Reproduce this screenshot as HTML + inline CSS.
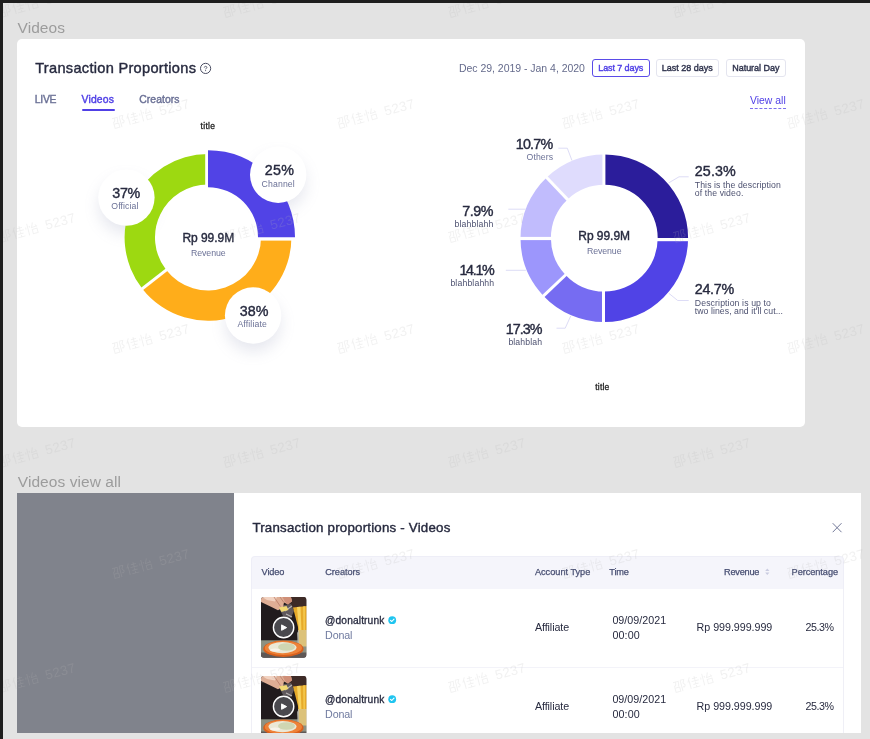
<!DOCTYPE html>
<html>
<head>
<meta charset="utf-8">
<title>Transaction Proportions</title>
<style>
*{box-sizing:border-box;margin:0;padding:0}
html,body{width:870px;height:739px;overflow:hidden}
body{background:#e3e3e3;font-family:"Liberation Sans",sans-serif;position:relative;color:#23263a}
.abs{position:absolute;white-space:nowrap}
#topbar{left:0;top:0;width:870px;height:3px;background:#1e1e1e}
#leftbar{left:0;top:0;width:3px;height:739px;background:#1e1e1e}
.sect{color:#9c9c9c;font-size:15px;line-height:18px}
#card{left:17px;top:39px;width:787.6px;height:388.2px;background:#fff;border-radius:5px}
#title{left:35px;top:59px;font-size:15px;font-weight:bold;line-height:18px;color:#23263a;letter-spacing:-0.15px}
.tab{font-size:10.5px;line-height:12px;font-weight:bold;color:#6b7196;top:93px}
.tab.on{color:#5040e6}
#tabline{left:81.5px;top:109.2px;width:33px;height:2px;background:#5040e6;border-radius:1px}
#date{left:459px;top:61px;font-size:10.5px;line-height:14px;color:#5d6385}
.btn{top:58.8px;height:18.2px;border:1px solid #e4e5ef;border-radius:3px;font-size:9px;font-weight:bold;line-height:16px;text-align:center;color:#2f334d;background:#fff}
.btn.on{border-color:#5a4be8;color:#5040e6}
#viewall{left:750px;top:95px;width:36px;font-size:10.5px;line-height:12px;color:#5040e6;border-bottom:1px dashed #5040e6;height:14px}
</style>
</head>
<body>
<div id="root" style="position:absolute;left:0;top:0;width:870px;height:739px;overflow:hidden;will-change:transform">
<div class="abs" id="topbar"></div>
<div class="abs" id="leftbar"></div>

<div class="abs" id="card"></div>
<svg class="abs" style="left:199px;top:62px" width="13" height="13" viewBox="0 0 13 13"><circle cx="6.6" cy="6.4" r="5.1" fill="none" stroke="#4a4d62" stroke-width="1"/><path d="M5.3 5.5C5.3 4 7.9 4 7.9 5.4C7.9 6.3 6.6 6.3 6.6 7.3" fill="none" stroke="#4a4d62" stroke-width="0.9"/><circle cx="6.6" cy="8.6" r="0.55" fill="#4a4d62"/></svg>
<div class="abs" id="tabline"></div>
<div class="abs btn on" style="left:591.8px;width:58px"></div>
<div class="abs btn" style="left:656px;width:63.2px"></div>
<div class="abs btn" style="left:726px;width:60.3px"></div>
<div class="abs" style="left:750px;top:108px;width:36px;height:0;border-top:1px dashed #7b6fee"></div>
<!-- HTEXT -->
<div class="abs" style="left:17.6px;top:18px;font-size:15.5px;line-height:19px;color:#9c9c9c;letter-spacing:0.05px">Videos</div>
<div class="abs" style="left:35.2px;top:59px;font-size:14.6px;line-height:18px;color:#272a3f;-webkit-text-stroke:0.4px #272a3f;letter-spacing:0.29px">Transaction Proportions</div>
<div class="abs" style="left:34.8px;top:94px;font-size:10.4px;line-height:12px;color:#6b7196;-webkit-text-stroke:0.4px #6b7196;letter-spacing:-0.28px">LIVE</div>
<div class="abs" style="left:81.5px;top:94px;font-size:10.4px;line-height:12px;color:#5040e6;-webkit-text-stroke:0.4px #5040e6;letter-spacing:0.17px">Videos</div>
<div class="abs" style="left:139.2px;top:94px;font-size:10.4px;line-height:12px;color:#6b7196;-webkit-text-stroke:0.4px #6b7196;letter-spacing:0.07px">Creators</div>
<div class="abs" style="left:459.0px;top:62px;font-size:10.5px;line-height:13px;color:#656b8c;letter-spacing:-0.03px">Dec 29, 2019 - Jan 4, 2020</div>
<div class="abs" style="left:598.3px;top:63px;font-size:9px;line-height:11px;color:#5040e6;-webkit-text-stroke:0.4px #5040e6;letter-spacing:-0.10px">Last 7 days</div>
<div class="abs" style="left:661.8px;top:63px;font-size:9px;line-height:11px;color:#2f334d;-webkit-text-stroke:0.4px #2f334d">Last 28 days</div>
<div class="abs" style="left:732.2px;top:63px;font-size:9px;line-height:11px;color:#2f334d;-webkit-text-stroke:0.4px #2f334d;letter-spacing:-0.02px">Natural Day</div>
<div class="abs" style="left:749.9px;top:95px;font-size:10.4px;line-height:12px;color:#5040e6;letter-spacing:0.03px">View all</div>
<div class="abs" style="left:17.8px;top:472px;font-size:15.5px;line-height:19px;color:#9c9c9c;letter-spacing:0.06px">Videos view all</div>
<!-- /HTEXT -->

<!-- CHARTS -->
<svg class="abs" style="left:0;top:0" width="870" height="739" viewBox="0 0 870 739">
<defs>
<filter id="bsh" x="-60%" y="-60%" width="220%" height="220%"><feGaussianBlur stdDeviation="8"/></filter>
</defs>
<g id="bshadows">
<circle cx="278.2" cy="183" r="27" fill="#7c82a8" opacity="0.2" filter="url(#bsh)"/>
<circle cx="126.4" cy="206" r="27" fill="#7c82a8" opacity="0.2" filter="url(#bsh)"/>
<circle cx="253.1" cy="324" r="27" fill="#7c82a8" opacity="0.2" filter="url(#bsh)"/>
</g>
<g id="ldonut">
<path d="M291.40 237.40A83.4 83.4 0 0 1 142.28 288.75L166.24 270.03A53 53 0 0 0 261.00 237.40Z" fill="#ffad1a"/>
<path d="M142.28 288.75A83.4 83.4 0 0 1 208.00 154.00L208.00 184.40A53 53 0 0 0 166.24 270.03Z" fill="#9dd911"/>
<path d="M172.54 265.10L135.50 294.04" stroke="#fff" stroke-width="3" fill="none"/>
<rect x="205.2" y="140" width="4" height="60" fill="#fff"/>
<rect x="250" y="236" width="50" height="4.6" fill="#fff"/>
<path d="M208.00 150.20A87 87 0 0 1 295.00 237.20L258.00 237.20A50 50 0 0 0 208.00 187.20Z" fill="#5143e6"/>
</g>
<g id="bubbles">
<circle cx="278.2" cy="174.8" r="28.2" fill="#fff"/>
<circle cx="126.4" cy="197.6" r="28.2" fill="#fff"/>
<circle cx="253.1" cy="315.5" r="28.2" fill="#fff"/>
</g>
<g id="rdonut">
<path d="M604.30 154.40A83.8 83.8 0 0 1 688.10 238.20L657.70 238.20A53.4 53.4 0 0 0 604.30 184.80Z" fill="#2b1d9b"/>
<path d="M688.10 238.20A83.8 83.8 0 0 1 604.30 322.00L604.30 291.60A53.4 53.4 0 0 0 657.70 238.20Z" fill="#5043e6"/>
<path d="M604.30 322.00A83.8 83.8 0 0 1 543.51 295.88L565.57 274.96A53.4 53.4 0 0 0 604.30 291.60Z" fill="#766cf2"/>
<path d="M543.51 295.88A83.8 83.8 0 0 1 520.50 238.20L550.90 238.20A53.4 53.4 0 0 0 565.57 274.96Z" fill="#9c96fc"/>
<path d="M520.50 238.20A83.8 83.8 0 0 1 546.62 177.41L567.54 199.47A53.4 53.4 0 0 0 550.90 238.20Z" fill="#c1bcfd"/>
<path d="M546.62 177.41A83.8 83.8 0 0 1 604.30 154.40L604.30 184.80A53.4 53.4 0 0 0 567.54 199.47Z" fill="#dfdcfd"/>
<path d="M569.48 271.24L539.02 300.15" stroke="#fff" stroke-width="3" fill="none"/>
<path d="M571.26 203.38L542.35 172.92" stroke="#fff" stroke-width="3" fill="none"/>
<rect x="602.4" y="150" width="3" height="40" fill="#fff"/>
<rect x="602.0" y="288" width="3" height="40" fill="#fff"/>
<rect x="655" y="238" width="40" height="3.2" fill="#fff"/>
<rect x="515" y="236.9" width="40" height="3.2" fill="#fff"/>
</g>
<g id="leaders" fill="none" stroke="#dddcf6" stroke-width="1">
<path d="M558.3 148.2H567.3L572 160.6"/>
<path d="M508.3 209.2H525.9"/>
<path d="M505.8 270.3H525.9"/>
<path d="M556.5 328.2H565.2L570.8 315.8"/>
<path d="M668.7 182.9L679 176.8H688.7"/>
<path d="M668.7 293.2L677.7 300.5H688.7"/>
</g>
</svg>
<!-- LABELS -->
<div class="abs" style="left:200.6px;top:121px;font-size:8.5px;line-height:10px;color:#222;-webkit-text-stroke:0.3px #222;letter-spacing:0.27px">title</div>
<div class="abs" style="left:264.8px;top:162px;font-size:14.3px;line-height:17px;color:#272a3f;-webkit-text-stroke:0.4px #272a3f;letter-spacing:0.26px">25%</div>
<div class="abs" style="left:261.6px;top:179px;font-size:8.7px;line-height:10px;color:#6b7196;letter-spacing:0.13px">Channel</div>
<div class="abs" style="left:112.3px;top:185px;font-size:14.3px;line-height:17px;color:#272a3f;-webkit-text-stroke:0.4px #272a3f;letter-spacing:-0.34px">37%</div>
<div class="abs" style="left:111.3px;top:201px;font-size:8.7px;line-height:10px;color:#6b7196;letter-spacing:0.10px">Official</div>
<div class="abs" style="left:239.8px;top:303px;font-size:14.3px;line-height:17px;color:#272a3f;-webkit-text-stroke:0.4px #272a3f;letter-spacing:0.06px">38%</div>
<div class="abs" style="left:237.4px;top:319px;font-size:8.7px;line-height:10px;color:#6b7196;letter-spacing:0.14px">Affiliate</div>
<div class="abs" style="left:182.4px;top:231px;font-size:12px;line-height:14px;color:#272a3f;-webkit-text-stroke:0.4px #272a3f;letter-spacing:-0.04px">Rp 99.9M</div>
<div class="abs" style="left:191.0px;top:248px;font-size:8.8px;line-height:11px;color:#6b7196;letter-spacing:-0.09px">Revenue</div>
<div class="abs" style="left:578.3px;top:229px;font-size:12px;line-height:14px;color:#272a3f;-webkit-text-stroke:0.4px #272a3f;letter-spacing:-0.04px">Rp 99.9M</div>
<div class="abs" style="left:586.9px;top:246px;font-size:8.8px;line-height:11px;color:#6b7196;letter-spacing:-0.09px">Revenue</div>
<div class="abs" style="left:515.8px;top:136px;font-size:14.3px;line-height:17px;color:#272a3f;-webkit-text-stroke:0.4px #272a3f;letter-spacing:-0.79px">10.7%</div>
<div class="abs" style="left:526.6px;top:152px;font-size:8.7px;line-height:10px;color:#6b7196;letter-spacing:0.07px">Others</div>
<div class="abs" style="left:462.3px;top:203px;font-size:14.3px;line-height:17px;color:#272a3f;-webkit-text-stroke:0.4px #272a3f;letter-spacing:-0.50px">7.9%</div>
<div class="abs" style="left:454.6px;top:219px;font-size:8.7px;line-height:10px;color:#4d5170;letter-spacing:0.13px">blahblahh</div>
<div class="abs" style="left:459.4px;top:262px;font-size:14.3px;line-height:17px;color:#272a3f;-webkit-text-stroke:0.4px #272a3f;letter-spacing:-1.29px">14.1%</div>
<div class="abs" style="left:450.4px;top:278px;font-size:8.7px;line-height:10px;color:#4d5170;letter-spacing:0.14px">blahblahhh</div>
<div class="abs" style="left:505.7px;top:321px;font-size:14.3px;line-height:17px;color:#272a3f;-webkit-text-stroke:0.4px #272a3f;letter-spacing:-0.95px">17.3%</div>
<div class="abs" style="left:508.4px;top:337px;font-size:8.7px;line-height:10px;color:#4d5170;letter-spacing:0.11px">blahblah</div>
<div class="abs" style="left:694.8px;top:163px;font-size:14.3px;line-height:17px;color:#272a3f;-webkit-text-stroke:0.4px #272a3f;letter-spacing:0.09px">25.3%</div>
<div class="abs" style="left:694.8px;top:180px;font-size:8.7px;line-height:10px;color:#4d5170;letter-spacing:0.09px">This is the description</div>
<div class="abs" style="left:694.8px;top:188px;font-size:8.7px;line-height:10px;color:#4d5170;letter-spacing:0.10px">of the video.</div>
<div class="abs" style="left:694.8px;top:281px;font-size:14.3px;line-height:17px;color:#272a3f;-webkit-text-stroke:0.4px #272a3f;letter-spacing:-0.31px">24.7%</div>
<div class="abs" style="left:694.8px;top:298px;font-size:8.7px;line-height:10px;color:#4d5170;letter-spacing:0.12px">Description is up to</div>
<div class="abs" style="left:694.8px;top:306px;font-size:8.7px;line-height:10px;color:#4d5170;letter-spacing:0.06px">two lines, and it'll cut...</div>
<div class="abs" style="left:595.2px;top:382px;font-size:8.5px;line-height:10px;color:#222;-webkit-text-stroke:0.3px #222;letter-spacing:0.23px">title</div>
<!-- /LABELS -->

<!-- BOTTOM -->
<div class="abs" style="left:16.5px;top:493px;width:217px;height:240px;background:#80838c"></div>
<div class="abs" style="left:233.5px;top:493px;width:627.5px;height:240px;background:#fff"></div>
<div class="abs" style="left:251px;top:555.5px;width:592.5px;height:33px;background:#f5f5fb;border:1px solid #eeeef7;border-bottom:0;border-radius:4px 4px 0 0"></div>
<div class="abs" style="left:251px;top:588.5px;width:592.5px;height:144.5px;border-left:1px solid #efeff6;border-right:1px solid #efeff6"></div>
<div class="abs" style="left:252px;top:667px;width:590.5px;height:1px;background:#f3f3f9"></div>
<svg class="abs" style="left:831px;top:522px" width="12" height="12" viewBox="0 0 12 12"><path d="M1.7 1.2L10.5 10.2M10.5 1.2L1.7 10.2" stroke="#737999" stroke-width="1" fill="none"/></svg>
<svg class="abs" style="left:764px;top:567px" width="7" height="10" viewBox="0 0 7 10"><path d="M1.2 4L3.3 1.6L5.4 4Z" fill="#c9cbe0"/><path d="M1.2 5.6L3.3 8L5.4 5.6Z" fill="#c9cbe0"/></svg>
<svg class="abs" style="left:261.3px;top:597.4px" width="45.4" height="60.8" viewBox="0 0 45.4 60.8">
<defs><clipPath id="tc1"><rect x="0" y="0" width="45.4" height="60.8" rx="3"/></clipPath><filter id="tb1" x="-10%" y="-10%" width="120%" height="120%"><feGaussianBlur stdDeviation="0.7"/></filter></defs>
<g clip-path="url(#tc1)">
<rect width="45.4" height="60.8" fill="#211b1d"/>
<g filter="url(#tb1)">
<rect x="28" y="-2" width="20" height="14" fill="#3d2926"/>
<rect x="-2" y="43.3" width="50" height="20" fill="#8d9182"/>
<rect x="-2" y="55.5" width="50" height="8" fill="#5f5857"/>
<path d="M17 9L30 7L33 14L30 21L22 19Z" fill="#5e585c"/>
<path d="M24 14L31 9M25 17L31 20" stroke="#b9b4b4" stroke-width="1.1" fill="none"/>
<path d="M32 10.5L46 9V47L38 48L37 30Z" fill="#e6aa2c"/>
<path d="M36 10L39.5 9.7L40.5 34L38 34Z" fill="#f7d35e"/>
<path d="M42 9.5L44 9.3V40H42.5Z" fill="#f3c548"/>
<path d="M37 33H46.5V49.5H38Z" fill="#dcc27a"/>
<path d="M36 36L38 33L38 47L36.5 46Z" fill="#b9b9b0" opacity="0.8"/>
<path d="M-1 -1H29.7L31 4.2L27 7.5L23 5.6L22 10.4L17 13.3L11 10.3L-1 4.4Z" fill="#dfae95"/>
<path d="M1 0H16L14 4.5L6 3Z" fill="#f2d3c2"/>
<path d="M21 -1L29.7 -1L31 4.2L27 7.5L24 5Z" fill="#cf8f78"/>
<path d="M13 0L19.5 9.5M19 0L23 5.6" stroke="#b87a66" stroke-width="0.8" fill="none"/>
<path d="M18 10.5L25.5 9L27.5 13L20.5 15Z" fill="#f1d873"/>
<ellipse cx="22.4" cy="51.8" rx="20.2" ry="8.2" fill="#d9601c"/>
<ellipse cx="22.4" cy="51" rx="18.6" ry="7" fill="#ee8238"/>
<ellipse cx="21.5" cy="50.6" rx="14" ry="5.6" fill="#ebe8d6"/>
<ellipse cx="25.5" cy="50" rx="8.5" ry="3.8" fill="#cfd6b2"/>
<ellipse cx="14" cy="53" rx="5" ry="1.6" fill="#f7f3ea"/>
</g>
<circle cx="22.6" cy="30.5" r="10.2" fill="#525256" opacity="0.86"/>
<circle cx="22.6" cy="30.5" r="10.2" fill="none" stroke="#fff" stroke-width="1.4"/>
<path d="M20.6 27.9L25.6 30.6L20.6 33.3Z" fill="#fff" stroke="#fff" stroke-width="1" stroke-linejoin="round"/>
</g></svg>
<svg class="abs" style="left:261.3px;top:676.4px" width="45.4" height="60.8" viewBox="0 0 45.4 60.8">
<defs><clipPath id="tc2"><rect x="0" y="0" width="45.4" height="60.8" rx="3"/></clipPath><filter id="tb2" x="-10%" y="-10%" width="120%" height="120%"><feGaussianBlur stdDeviation="0.7"/></filter></defs>
<g clip-path="url(#tc2)">
<rect width="45.4" height="60.8" fill="#211b1d"/>
<g filter="url(#tb2)">
<rect x="28" y="-2" width="20" height="14" fill="#3d2926"/>
<rect x="-2" y="43.3" width="50" height="20" fill="#8d9182"/>
<rect x="-2" y="55.5" width="50" height="8" fill="#5f5857"/>
<path d="M17 9L30 7L33 14L30 21L22 19Z" fill="#5e585c"/>
<path d="M24 14L31 9M25 17L31 20" stroke="#b9b4b4" stroke-width="1.1" fill="none"/>
<path d="M32 10.5L46 9V47L38 48L37 30Z" fill="#e6aa2c"/>
<path d="M36 10L39.5 9.7L40.5 34L38 34Z" fill="#f7d35e"/>
<path d="M42 9.5L44 9.3V40H42.5Z" fill="#f3c548"/>
<path d="M37 33H46.5V49.5H38Z" fill="#dcc27a"/>
<path d="M36 36L38 33L38 47L36.5 46Z" fill="#b9b9b0" opacity="0.8"/>
<path d="M-1 -1H29.7L31 4.2L27 7.5L23 5.6L22 10.4L17 13.3L11 10.3L-1 4.4Z" fill="#dfae95"/>
<path d="M1 0H16L14 4.5L6 3Z" fill="#f2d3c2"/>
<path d="M21 -1L29.7 -1L31 4.2L27 7.5L24 5Z" fill="#cf8f78"/>
<path d="M13 0L19.5 9.5M19 0L23 5.6" stroke="#b87a66" stroke-width="0.8" fill="none"/>
<path d="M18 10.5L25.5 9L27.5 13L20.5 15Z" fill="#f1d873"/>
<ellipse cx="22.4" cy="51.8" rx="20.2" ry="8.2" fill="#d9601c"/>
<ellipse cx="22.4" cy="51" rx="18.6" ry="7" fill="#ee8238"/>
<ellipse cx="21.5" cy="50.6" rx="14" ry="5.6" fill="#ebe8d6"/>
<ellipse cx="25.5" cy="50" rx="8.5" ry="3.8" fill="#cfd6b2"/>
<ellipse cx="14" cy="53" rx="5" ry="1.6" fill="#f7f3ea"/>
</g>
<circle cx="22.6" cy="30.5" r="10.2" fill="#525256" opacity="0.86"/>
<circle cx="22.6" cy="30.5" r="10.2" fill="none" stroke="#fff" stroke-width="1.4"/>
<path d="M20.6 27.9L25.6 30.6L20.6 33.3Z" fill="#fff" stroke="#fff" stroke-width="1" stroke-linejoin="round"/>
</g></svg>
<svg class="abs" style="left:388px;top:616.4px" width="9" height="9" viewBox="0 0 9 9"><circle cx="4.2" cy="4.2" r="3.9" fill="#20c5f0"/><path d="M2.5 4.3L3.8 5.5L6 3.1" fill="none" stroke="#fff" stroke-width="1.1" stroke-linecap="round" stroke-linejoin="round"/></svg>
<svg class="abs" style="left:388px;top:695.4px" width="9" height="9" viewBox="0 0 9 9"><circle cx="4.2" cy="4.2" r="3.9" fill="#20c5f0"/><path d="M2.5 4.3L3.8 5.5L6 3.1" fill="none" stroke="#fff" stroke-width="1.1" stroke-linecap="round" stroke-linejoin="round"/></svg>
<!-- BTEXT -->
<div class="abs" style="left:252.4px;top:520px;font-size:13.3px;line-height:16px;color:#272a3f;-webkit-text-stroke:0.4px #272a3f;letter-spacing:0.21px">Transaction proportions - Videos</div>
<div class="abs" style="left:261.6px;top:567px;font-size:9.2px;line-height:11px;color:#474e72;letter-spacing:-0.17px;-webkit-text-stroke:0.25px #474e72">Video</div>
<div class="abs" style="left:325.2px;top:567px;font-size:9.2px;line-height:11px;color:#474e72;letter-spacing:-0.03px;-webkit-text-stroke:0.25px #474e72">Creators</div>
<div class="abs" style="left:534.9px;top:567px;font-size:9.2px;line-height:11px;color:#474e72;letter-spacing:-0.01px;-webkit-text-stroke:0.25px #474e72">Account Type</div>
<div class="abs" style="left:609.3px;top:567px;font-size:9.2px;line-height:11px;color:#474e72;letter-spacing:-0.14px;-webkit-text-stroke:0.25px #474e72">Time</div>
<div class="abs" style="left:724.0px;top:567px;font-size:9.2px;line-height:11px;color:#474e72;letter-spacing:-0.23px;-webkit-text-stroke:0.25px #474e72">Revenue</div>
<div class="abs" style="left:791.6px;top:567px;font-size:9.2px;line-height:11px;color:#474e72;letter-spacing:-0.06px;-webkit-text-stroke:0.25px #474e72">Percentage</div>
<div class="abs" style="left:325.1px;top:615px;font-size:10.2px;line-height:12px;color:#272a3f;-webkit-text-stroke:0.3px #272a3f;letter-spacing:0.13px">@donaltrunk</div>
<div class="abs" style="left:325.1px;top:629px;font-size:10.7px;line-height:13px;color:#6f7a9f;letter-spacing:-0.13px">Donal</div>
<div class="abs" style="left:534.9px;top:621px;font-size:10.7px;line-height:13px;color:#272a3f;letter-spacing:-0.07px">Affiliate</div>
<div class="abs" style="left:612.4px;top:614px;font-size:10.7px;line-height:13px;color:#272a3f;letter-spacing:0.03px">09/09/2021</div>
<div class="abs" style="left:612.4px;top:629px;font-size:10.7px;line-height:13px;color:#272a3f;letter-spacing:0.15px">00:00</div>
<div class="abs" style="left:696.6px;top:621px;font-size:10.7px;line-height:13px;color:#272a3f;letter-spacing:-0.03px">Rp 999.999.999</div>
<div class="abs" style="left:805.6px;top:621px;font-size:10.7px;line-height:13px;color:#272a3f;letter-spacing:-0.50px">25.3%</div>
<div class="abs" style="left:325.1px;top:694px;font-size:10.2px;line-height:12px;color:#272a3f;-webkit-text-stroke:0.3px #272a3f;letter-spacing:0.13px">@donaltrunk</div>
<div class="abs" style="left:325.1px;top:708px;font-size:10.7px;line-height:13px;color:#6f7a9f;letter-spacing:-0.13px">Donal</div>
<div class="abs" style="left:534.9px;top:700px;font-size:10.7px;line-height:13px;color:#272a3f;letter-spacing:-0.07px">Affiliate</div>
<div class="abs" style="left:612.4px;top:693px;font-size:10.7px;line-height:13px;color:#272a3f;letter-spacing:0.03px">09/09/2021</div>
<div class="abs" style="left:612.4px;top:708px;font-size:10.7px;line-height:13px;color:#272a3f;letter-spacing:0.15px">00:00</div>
<div class="abs" style="left:696.6px;top:700px;font-size:10.7px;line-height:13px;color:#272a3f;letter-spacing:-0.03px">Rp 999.999.999</div>
<div class="abs" style="left:805.6px;top:700px;font-size:10.7px;line-height:13px;color:#272a3f;letter-spacing:-0.50px">25.3%</div>
<!-- /BTEXT -->

<div class="abs" style="left:0;top:733px;width:870px;height:6px;background:#e3e3e3"></div>
<!-- WATERMARK -->
<svg class="abs" style="left:0;top:0;pointer-events:none" width="870" height="739" viewBox="0 0 870 739">
<defs>
<g id="wm" fill="none" stroke="#b8b8b8" stroke-width="0.9" font-family="Liberation Sans, sans-serif">
<g transform="translate(-38,-6)">
<path d="M0.5 1.5H5.5L5 5.5L4 6M3 1.5L2.5 4L0.5 6M1 7H5.5V11H1ZM7.5 1V11.5M7.5 1H11L9.5 4L11 6.5L10 8L8.5 7.5"/>
<path transform="translate(13,0)" d="M3.5 0.5L1 5M2.5 3.5V11.5M5.5 2.5H10.5M4.5 5H11.5M5.5 8H10.5M4.5 11H11.5M8 0.5V5M8 6V11"/>
<path transform="translate(26,0)" d="M2.5 0.5V11.5M0.8 3.5L0.5 5.5M4 3L4.6 4.5M8 0.5L6 5L11 4.5M9.8 3L11.2 5.2M6.2 6.8H10.8V11H6.2Z"/>
<text x="45" y="10.6" font-size="12.5" stroke="none" fill="#b8b8b8" letter-spacing="0.3">5237</text>
</g>
</g>
</defs>
<g opacity="0.19">
<use href="#wm" transform="translate(38,2) rotate(-15) scale(1.07)"/>
<use href="#wm" transform="translate(263,2) rotate(-15) scale(1.07)"/>
<use href="#wm" transform="translate(488,2) rotate(-15) scale(1.07)"/>
<use href="#wm" transform="translate(713,2) rotate(-15) scale(1.07)"/>
<use href="#wm" transform="translate(38,227) rotate(-15) scale(1.07)"/>
<use href="#wm" transform="translate(263,227) rotate(-15) scale(1.07)"/>
<use href="#wm" transform="translate(488,227) rotate(-15) scale(1.07)"/>
<use href="#wm" transform="translate(713,227) rotate(-15) scale(1.07)"/>
<use href="#wm" transform="translate(38,452) rotate(-15) scale(1.07)"/>
<use href="#wm" transform="translate(263,452) rotate(-15) scale(1.07)"/>
<use href="#wm" transform="translate(488,452) rotate(-15) scale(1.07)"/>
<use href="#wm" transform="translate(713,452) rotate(-15) scale(1.07)"/>
<use href="#wm" transform="translate(38,677) rotate(-15) scale(1.07)"/>
<use href="#wm" transform="translate(263,677) rotate(-15) scale(1.07)"/>
<use href="#wm" transform="translate(488,677) rotate(-15) scale(1.07)"/>
<use href="#wm" transform="translate(713,677) rotate(-15) scale(1.07)"/>
<use href="#wm" transform="translate(152,113) rotate(-15) scale(1.07)"/>
<use href="#wm" transform="translate(377,113) rotate(-15) scale(1.07)"/>
<use href="#wm" transform="translate(602,113) rotate(-15) scale(1.07)"/>
<use href="#wm" transform="translate(827,113) rotate(-15) scale(1.07)"/>
<use href="#wm" transform="translate(152,338) rotate(-15) scale(1.07)"/>
<use href="#wm" transform="translate(377,338) rotate(-15) scale(1.07)"/>
<use href="#wm" transform="translate(602,338) rotate(-15) scale(1.07)"/>
<use href="#wm" transform="translate(827,338) rotate(-15) scale(1.07)"/>
<use href="#wm" transform="translate(152,563) rotate(-15) scale(1.07)"/>
<use href="#wm" transform="translate(377,563) rotate(-15) scale(1.07)"/>
<use href="#wm" transform="translate(602,563) rotate(-15) scale(1.07)"/>
<use href="#wm" transform="translate(827,563) rotate(-15) scale(1.07)"/>
</g></svg>
<!-- /WATERMARK -->
<div class="abs" style="left:0;top:0;width:3px;height:739px;background:#1e1e1e"></div>
<div class="abs" style="left:0;top:0;width:870px;height:3px;background:#1e1e1e"></div>
<!-- /BOTTOM -->

</div>
</body>
</html>
